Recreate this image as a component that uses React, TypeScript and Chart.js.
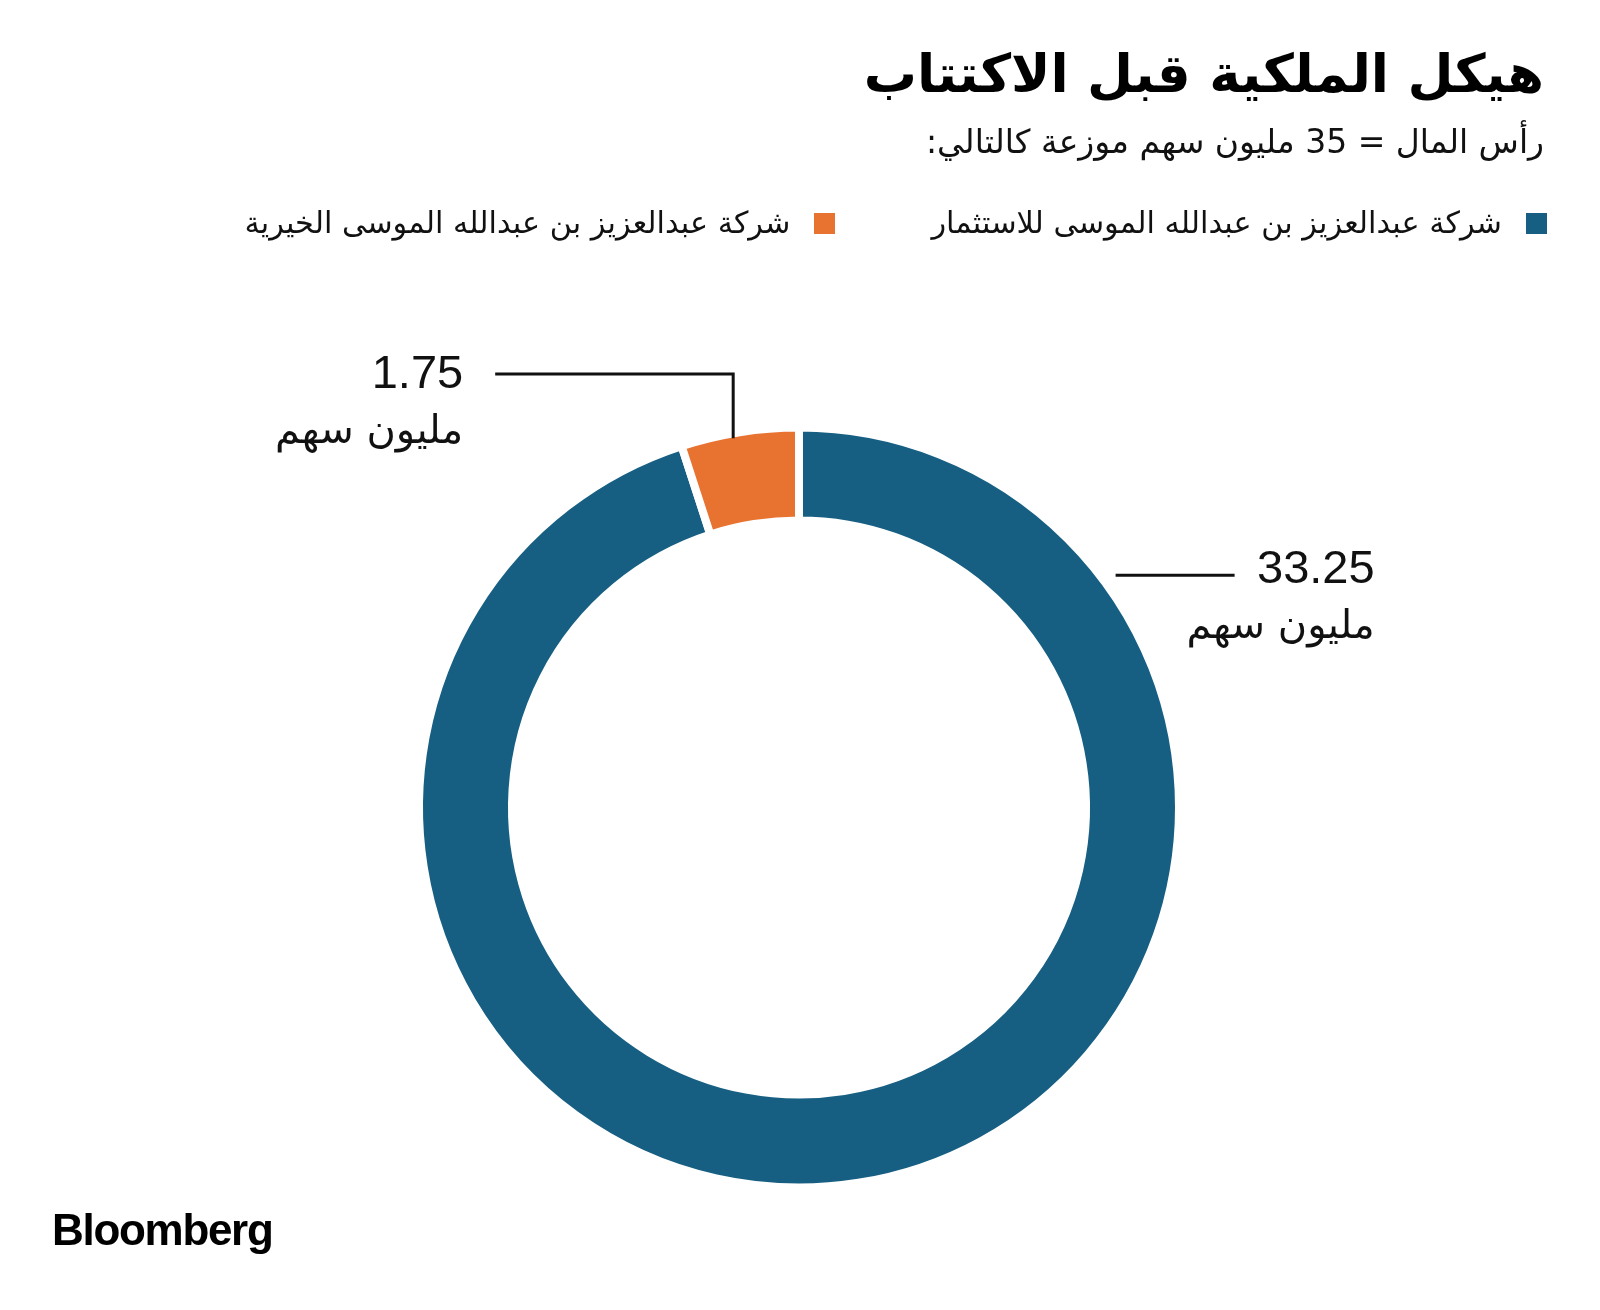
import React, { useEffect, useRef } from "react";
import { Chart, registerables } from "chart.js";

Chart.register(...registerables);

const TITLE = "هيكل الملكية قبل الاكتتاب";
const SUBTITLE = "رأس المال = 35 مليون سهم موزعة كالتالي:";
const CATEGORIES = [
  "شركة عبدالعزيز بن عبدالله الموسى للاستثمار",
  "شركة عبدالعزيز بن عبدالله الموسى الخيرية",
];
const SHARES = [33.25, 1.75];
const VALUE_LABELS = ["33.25", "1.75"];
const UNIT_LABEL = "مليون سهم";
const COLORS = ["#175f82", "#e87331"];
const SOURCE = "Bloomberg";

const ARABIC_FONT = '"DejaVu Sans", sans-serif';
const LATIN_FONT = '"Liberation Sans", Arial, sans-serif';

const calloutPlugin = {
  id: "callouts",
  afterDatasetsDraw(chart: any) {
    const ctx = chart.ctx;
    const meta = chart.getDatasetMeta(0);
    meta.data.forEach((arc: any, i: number) => {
      const p = arc.getProps(["x", "y", "startAngle", "endAngle", "outerRadius"], true);
      const R = p.outerRadius - 4;
      const cx = p.x;
      const cy = p.y;
      ctx.save();
      ctx.strokeStyle = "#111";
      ctx.lineWidth = 3;
      ctx.fillStyle = "#111";
      let textRight = 0;
      let numBase = 0;
      if (i === 1) {
        const mid = (p.startAngle + p.endAngle) / 2;
        const lineX = cx + R * Math.cos(mid) - 7;
        const dx = lineX - cx;
        const edgeY = cy - Math.sqrt(R * R - dx * dx);
        const topY = cy - 433.5;
        ctx.beginPath();
        ctx.moveTo(lineX, edgeY + 1);
        ctx.lineTo(lineX, topY);
        ctx.lineTo(lineX - 238, topY);
        ctx.stroke();
        textRight = lineX - 270;
        numBase = topY + 14;
      } else {
        const lineY = cy - 0.618 * R;
        const dy = cy - lineY;
        const startX = cx + Math.sqrt(R * R - dy * dy) + 21;
        ctx.beginPath();
        ctx.moveTo(startX, lineY);
        ctx.lineTo(startX + 119, lineY);
        ctx.stroke();
        textRight = startX + 259;
        numBase = lineY + 8;
      }
      ctx.textAlign = "right";
      ctx.textBaseline = "alphabetic";
      ctx.font = `47px ${LATIN_FONT}`;
      ctx.fillText(VALUE_LABELS[i], textRight, numBase);
      ctx.font = `40px ${ARABIC_FONT}`;
      ctx.direction = "rtl";
      ctx.fillText(UNIT_LABEL, textRight, numBase + 55);
      ctx.restore();
    });
  },
};

export default function App() {
  const canvasRef = useRef<HTMLCanvasElement | null>(null);

  useEffect(() => {
    if (!canvasRef.current) return;
    const chart = new Chart(canvasRef.current, {
      type: "doughnut",
      data: {
        labels: CATEGORIES,
        datasets: [
          {
            data: SHARES,
            backgroundColor: COLORS,
            borderColor: "#ffffff",
            borderWidth: 8,
            radius: 380,
            cutout: "75.53%",
          } as any,
        ],
      },
      options: {
        responsive: false,
        animation: false,
        devicePixelRatio: 1,
        layout: { padding: { top: 305, right: 2, bottom: 0, left: 0 } },
        plugins: {
          legend: { display: false },
          tooltip: { enabled: false },
        },
        events: [],
      } as any,
      plugins: [calloutPlugin],
    });
    return () => chart.destroy();
  }, []);

  return (
    <div
      style={{
        position: "absolute",
        left: 0,
        top: 0,
        width: 1600,
        height: 1310,
        background: "#ffffff",
        overflow: "hidden",
      }}
    >
      <canvas
        ref={canvasRef}
        width={1600}
        height={1310}
        style={{ position: "absolute", left: 0, top: 0, width: 1600, height: 1310 }}
      />
      <div
        dir="rtl"
        style={{
          position: "absolute",
          right: 56,
          top: 39,
          fontFamily: ARABIC_FONT,
          fontWeight: 700,
          fontSize: 53,
          lineHeight: "70px",
          color: "#000",
          whiteSpace: "nowrap",
        }}
      >
        {TITLE}
      </div>
      <div
        dir="rtl"
        style={{
          position: "absolute",
          right: 56,
          top: 120,
          fontFamily: ARABIC_FONT,
          fontSize: 33,
          lineHeight: "44px",
          color: "#111",
          whiteSpace: "nowrap",
        }}
      >
        {SUBTITLE}
      </div>
      <div
        dir="rtl"
        style={{
          position: "absolute",
          right: 53,
          top: 203,
          display: "flex",
          flexDirection: "row",
          alignItems: "center",
          gap: 96,
          fontFamily: ARABIC_FONT,
          fontSize: 30.3,
          lineHeight: "40px",
          color: "#111",
          whiteSpace: "nowrap",
        }}
      >
        {CATEGORIES.map((c, i) => (
          <div key={c} style={{ display: "flex", alignItems: "center", gap: 24 }}>
            <span
              style={{
                display: "inline-block",
                width: 21,
                height: 21,
                background: COLORS[i],
              }}
            />
            <span>{c}</span>
          </div>
        ))}
      </div>
      <div
        style={{
          position: "absolute",
          left: 52,
          top: 1205,
          fontFamily: LATIN_FONT,
          fontWeight: 700,
          fontSize: 44,
          letterSpacing: -1.3,
          lineHeight: "50px",
          color: "#000",
        }}
      >
        {SOURCE}
      </div>
    </div>
  );
}
